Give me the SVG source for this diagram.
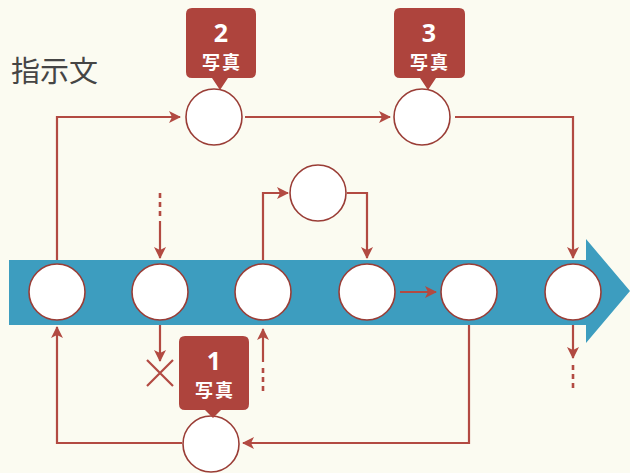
<svg xmlns="http://www.w3.org/2000/svg" width="630" height="473" viewBox="0 0 630 473">
<defs>
<style>
.ln{fill:none;stroke:#b24a42;stroke-width:2.2}
.dash{fill:none;stroke:#b24a42;stroke-width:2.6;stroke-dasharray:5,4}
.node{fill:#fff;stroke:#9a3d36;stroke-width:1.6}
.call{fill:#ae443d}
.num{font-family:"Open Sans","DejaVu Sans",sans-serif;font-weight:bold;font-size:25px;fill:#fff;text-anchor:middle}
.lab{font-family:"Noto Sans CJK JP",sans-serif;font-weight:bold;font-size:18px;letter-spacing:2px;fill:#fff;text-anchor:middle}
.title{font-family:"Noto Sans CJK JP",sans-serif;font-size:29px;fill:#454545}
</style>
<marker id="ah" viewBox="0 0 12 12" refX="11" refY="6" markerWidth="12" markerHeight="12" markerUnits="userSpaceOnUse" orient="auto">
<path d="M0,0 L12,6 L0,12 L3,6 Z" fill="#b24a42"/>
</marker>
</defs>
<rect width="630" height="473" fill="#fbfbf1"/>
<path d="M9,260 H586 V239 L630,291 L586,343 V325 H9 Z" fill="#3d9dbf"/>
<text class="title" x="11" y="82">指示文</text>
<g id="connectors">
<path class="ln" d="M57,260 V117 H180" marker-end="url(#ah)"/>
<path class="ln" d="M245,117 H390" marker-end="url(#ah)"/>
<path class="ln" d="M455,117 H573 V258" marker-end="url(#ah)"/>
<path class="dash" d="M160,193 V217"/>
<path class="ln" d="M160,221 V258" marker-end="url(#ah)"/>
<path class="ln" d="M263,260 V193 H288" marker-end="url(#ah)"/>
<path class="ln" d="M347,193 H367 V258" marker-end="url(#ah)"/>
<path class="ln" d="M400,292 H436" marker-end="url(#ah)"/>
<path class="ln" d="M469,325 V443 H243" marker-end="url(#ah)"/>
<path class="ln" d="M182,443 H57 V327" marker-end="url(#ah)"/>
<path class="ln" d="M160,325 V361" marker-end="url(#ah)"/>
<path class="ln" d="M147,360 L173,386 M173,360 L147,386"/>
<path class="ln" d="M263,362 V329" marker-end="url(#ah)"/>
<path class="dash" d="M263,368 V392"/>
<path class="ln" d="M573,325 V358" marker-end="url(#ah)"/>
<path class="dash" d="M573,365 V391"/>
</g>
<g id="n1"><circle class="node" cx="57" cy="292" r="28"/></g>
<g id="n2"><circle class="node" cx="160" cy="292" r="28"/></g>
<g id="n3"><circle class="node" cx="263" cy="292" r="28"/></g>
<g id="n4"><circle class="node" cx="367" cy="292" r="28"/></g>
<g id="n5"><circle class="node" cx="469" cy="292" r="28"/></g>
<g id="n6"><circle class="node" cx="573" cy="292" r="28"/></g>
<g id="top2"><circle class="node" cx="214" cy="117" r="28"/></g>
<g id="top3"><circle class="node" cx="422" cy="117" r="28"/></g>
<g id="mid"><circle class="node" cx="318" cy="193" r="28"/></g>
<g id="bottom"><circle class="node" cx="211" cy="444" r="28"/></g>
<g id="callout2">
<path class="call" d="M192,8 H250 Q256,8 256,14 V72 Q256,78 250,78 H228 L220,90 L212,78 H192 Q186,78 186,72 V14 Q186,8 192,8 Z"/>
<text class="num" x="221" y="42">2</text>
<text class="lab" x="222" y="69">写真</text>
</g>
<g id="callout3">
<path class="call" d="M400,8 H459 Q465,8 465,14 V72 Q465,78 459,78 H436 L428,90 L420,78 H400 Q394,78 394,72 V14 Q394,8 400,8 Z"/>
<text class="num" x="429" y="42">3</text>
<text class="lab" x="430" y="69">写真</text>
</g>
<g id="callout1">
<path class="call" d="M185,336 H243 Q249,336 249,342 V404 Q249,410 243,410 H221 L213,418 L205,410 H185 Q179,410 179,404 V342 Q179,336 185,336 Z"/>
<text class="num" x="214" y="370">1</text>
<text class="lab" x="215" y="397">写真</text>
</g>
</svg>
